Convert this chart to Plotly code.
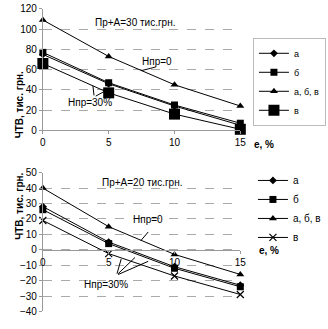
import plotly.graph_objects as go

# Discount rate, %
e_vals = [0, 5, 10, 15]
y_ticks_top = [0, 20, 40, 60, 80, 100, 120]
y_ticks_bot = [-40, -30, -20, -10, 0, 10, 20, 30, 40, 50]

# Пр+А = 30 тис.грн.
top_a = [75, 46, 24, 5]
top_b = [77, 47, 25, 7]
top_abv = [109, 73, 45, 24]
top_v = [66, 37, 16, 1]

# Пр+А = 20 тис.грн.
bot_a = [28, 5, -11, -23]
bot_b = [26, 4, -12, -24]
bot_abv = [40, 15, -3, -16]
bot_v = [19, -2.5, -17, -29]

W, H = 328, 329
FONT = "Liberation Sans, Arial, sans-serif"


def py(p):
    """pixel row -> paper y"""
    return (H - p) / H


def px(p):
    return p / W


fig = go.Figure()

line = dict(color="black", width=1)

series_top = [
    ("а", top_a, dict(symbol="diamond", size=6)),
    ("б", top_b, dict(symbol="square", size=7)),
    ("а, б, в", top_abv, dict(symbol="triangle-up", size=7)),
    ("в", top_v, dict(symbol="square", size=11)),
]
for name, vals, mk in series_top:
    fig.add_trace(go.Scatter(
        x=e_vals, y=vals, name=name, mode="lines+markers",
        line=line, marker=dict(color="black", **mk),
        xaxis="x", yaxis="y", legend="legend", cliponaxis=False))

series_bot = [
    ("а", bot_a, dict(symbol="diamond", size=6)),
    ("б", bot_b, dict(symbol="square", size=7)),
    ("а, б, в", bot_abv, dict(symbol="triangle-up", size=7)),
    ("в", bot_v, dict(symbol="x-thin", size=7, line=dict(color="black", width=1.2))),
]
for name, vals, mk in series_bot:
    fig.add_trace(go.Scatter(
        x=e_vals, y=vals, name=name, mode="lines+markers",
        line=line, marker=dict(color="black", **mk),
        xaxis="x2", yaxis="y2", legend="legend2", cliponaxis=False))

tickfont = dict(family=FONT, size=10, color="black")
grid = dict(showgrid=True, gridcolor="#aaaaaa", griddash="dash", gridwidth=1)

x_dom = [px(41), px(244)]
top_dom = [py(129), py(3)]
bot_dom = [py(317), py(173)]

fig.update_layout(
    width=W, height=H,
    margin=dict(l=0, r=0, t=0, b=0),
    paper_bgcolor="white", plot_bgcolor="white",
    font=dict(family=FONT, size=10, color="black"),
    xaxis=dict(domain=x_dom, range=[0, 15], anchor="y",
               tickvals=e_vals, ticks="outside", ticklen=3, tickcolor="#999999",
               showline=True, linecolor="#999999", showgrid=False,
               zeroline=False, tickfont=tickfont),
    yaxis=dict(domain=top_dom, range=[0, 120], anchor="x",
               tickvals=y_ticks_top, ticks="outside", ticklen=3,
               tickcolor="#999999", showline=True, linecolor="#999999",
               zeroline=False, tickfont=tickfont, **grid),
    xaxis2=dict(domain=x_dom, range=[0, 15], anchor="free",
                position=bot_dom[0] + (bot_dom[1] - bot_dom[0]) * 40 / 90,
                tickvals=e_vals, ticks="outside", ticklen=3, tickcolor="#999999",
                showline=True, linecolor="#999999", showgrid=False,
                zeroline=False, tickfont=tickfont),
    yaxis2=dict(domain=bot_dom, range=[-40, 50], anchor="x2",
                tickvals=y_ticks_bot, ticks="outside", ticklen=3,
                tickcolor="#999999", showline=True, linecolor="#999999",
                zeroline=False, tickfont=tickfont, **grid),
    legend=dict(x=px(257), y=py(33), xanchor="left", yanchor="top",
                bordercolor="#bbbbbb", borderwidth=1, bgcolor="white",
                font=dict(family=FONT, size=9), itemwidth=30,
                tracegroupgap=0, itemsizing="trace"),
    legend2=dict(x=px(257), y=py(166), xanchor="left", yanchor="top",
                 borderwidth=0, bgcolor="rgba(0,0,0,0)",
                 font=dict(family=FONT, size=10), itemwidth=30,
                 tracegroupgap=0, itemsizing="trace"),
    showlegend=True,
)

ann = []
# axis titles
for yc in [(py(3) + py(129)) / 2, (py(173) + py(317)) / 2]:
    ann.append(dict(x=px(9), y=yc, xref="paper", yref="paper",
                    text="<b>ЧТВ, тис. грн.</b>", textangle=-90,
                    showarrow=False, font=dict(family=FONT, size=10)))
ann.append(dict(x=px(256), y=py(144), xref="paper", yref="paper",
                xanchor="left", text="<b>е, %</b>", showarrow=False,
                font=dict(family=FONT, size=10)))
ann.append(dict(x=px(261), y=py(262), xref="paper", yref="paper",
                xanchor="left", text="<b>е, %</b>", showarrow=False,
                font=dict(family=FONT, size=10)))

# panel captions
ann.append(dict(x=7.0, y=107, xref="x", yref="y", text="Пр+А=30 тис.грн.",
                showarrow=False, font=dict(family=FONT, size=10)))
ann.append(dict(x=7.5, y=43.5, xref="x2", yref="y2", text="Пр+А=20 тис.грн.",
                showarrow=False, font=dict(family=FONT, size=10)))

lbl = dict(family=FONT, size=10)
# top: Нпр=0 with leader line
ann.append(dict(x=8.7, y=68, xref="x", yref="y", text="Нпр=0",
                showarrow=False, font=lbl))
ann.append(dict(x=7.5, y=59, ax=8.7, ay=63, xref="x", yref="y",
                axref="x", ayref="y", text="", showarrow=True,
                arrowhead=0, arrowwidth=1, arrowcolor="black"))
# top: Нпр=30% with leader lines
ann.append(dict(x=3.55, y=27.5, xref="x", yref="y", text="Нпр=30%",
                showarrow=False, font=lbl))
for tx, ty in [(3.8, 44), (4.9, 40)]:
    ann.append(dict(x=tx, y=ty, ax=3.9, ay=33, xref="x", yref="y",
                    axref="x", ayref="y", text="", showarrow=True,
                    arrowhead=0, arrowwidth=1, arrowcolor="black"))

# bottom: Нпр=0 with leader line
ann.append(dict(x=8.0, y=19.5, xref="x2", yref="y2", text="Нпр=0",
                showarrow=False, font=lbl))
ann.append(dict(x=7.45, y=6, ax=8.1, ay=12.5, xref="x2", yref="y2",
                axref="x2", ayref="y2", text="", showarrow=True,
                arrowhead=0, arrowwidth=1, arrowcolor="black"))
# bottom: Нпр=30% with leader lines
ann.append(dict(x=4.8, y=-22.5, xref="x2", yref="y2", text="Нпр=30%",
                showarrow=False, font=lbl))
for tx, ty in [(5.95, -6), (7.0, -5), (8.0, -7.5)]:
    ann.append(dict(x=tx, y=ty, ax=5.6, ay=-16.5, xref="x2", yref="y2",
                    axref="x2", ayref="y2", text="", showarrow=True,
                    arrowhead=0, arrowwidth=1, arrowcolor="black"))

fig.update_layout(annotations=ann)

fig.write_html("out.html")
